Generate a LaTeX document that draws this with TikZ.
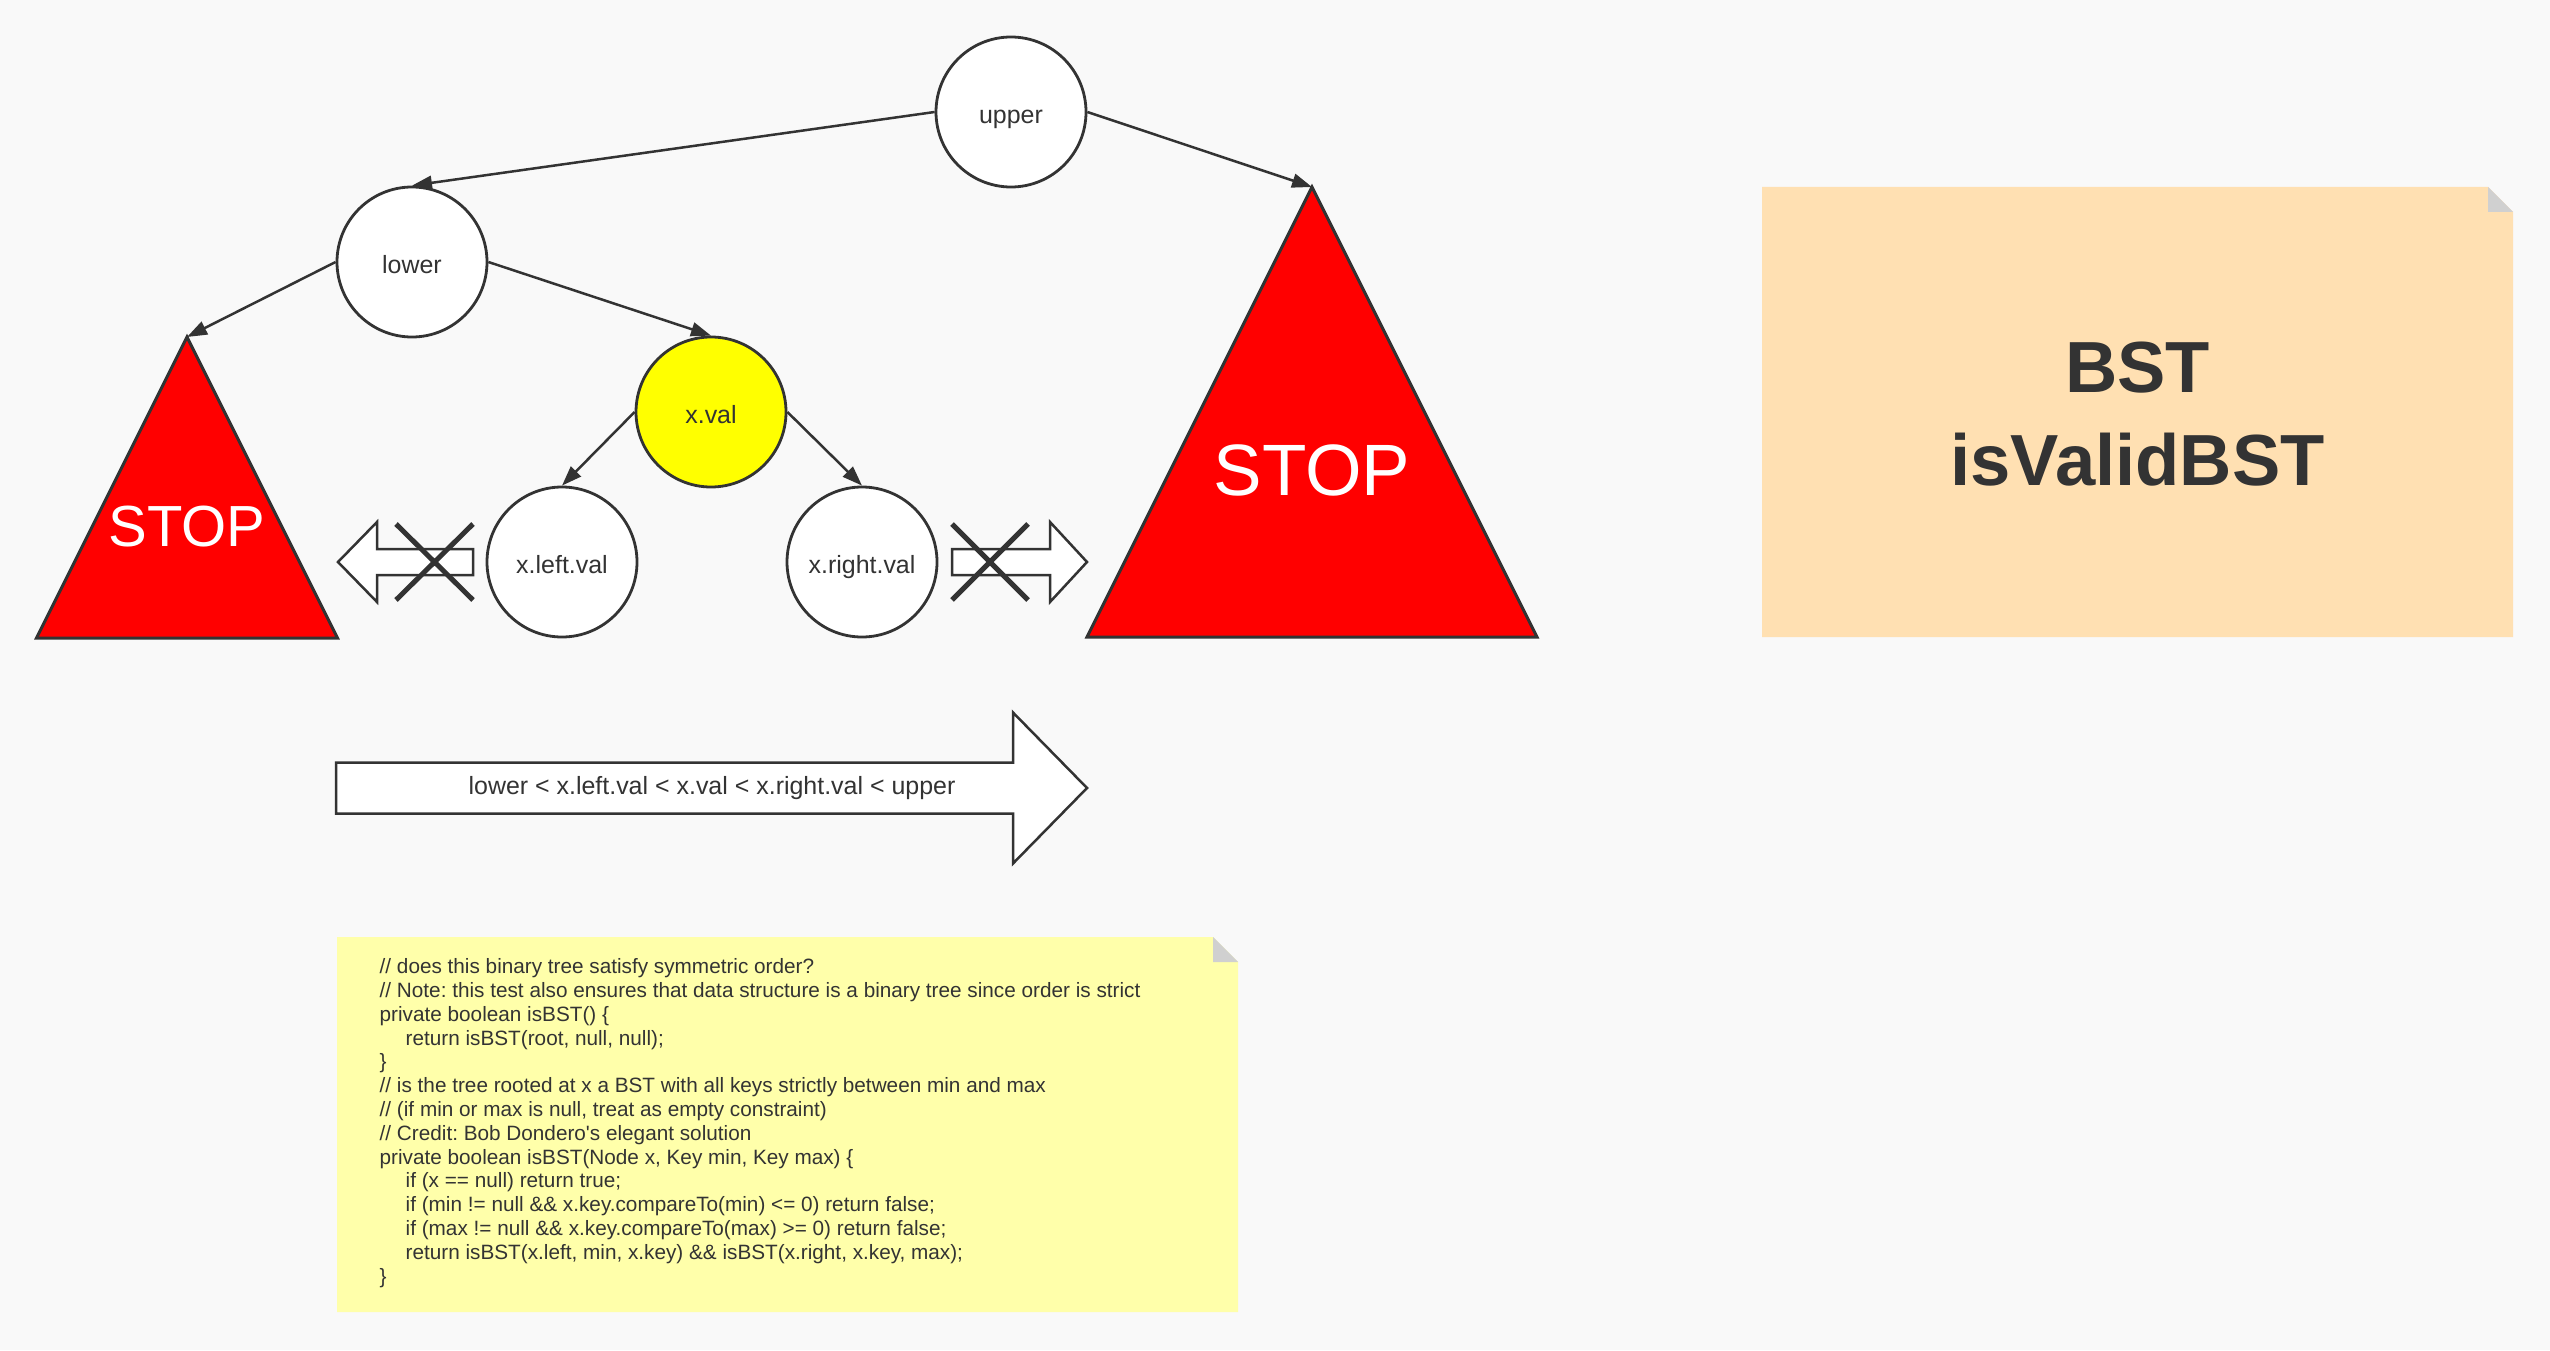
\documentclass[tikz,border=0pt]{standalone}
\usepackage{fontspec}
\setmainfont{Liberation Sans}
\usetikzlibrary{arrows.meta,calc}
\usepackage{xcolor}
\newcommand{\NodeSize}{15mm}
\newcommand{\CodeIndent}{\hspace*{2.6mm}}
\definecolor{inkGrey}{HTML}{333333}
\definecolor{pageBg}{HTML}{F9F9F9}
\definecolor{stopRed}{HTML}{FF0000}
\definecolor{currentYellow}{HTML}{FFFF00}
\definecolor{codeYellow}{HTML}{FFFFAA}
\definecolor{titlePeach}{HTML}{FFE0B2}
\definecolor{foldGrey}{HTML}{D0D0D0}
\newcommand{\PlaceStop}[5]{%
  % #1 name, #2 apex x, #3 apex y, #4 height (= base), #5 font size
  \coordinate (#1) at (#2,#3);
  \draw[stopshape] (#1) -- ++(-#4/2,#4) -- ++(#4,0) -- cycle;
  \node[stoplabel,font=\fontsize{#5}{#5}\selectfont] (#1label)
    at ($(#1)+(0,0.63*#4)$) {STOP};
}
\newcommand{\FatArrow}[6]{%
  % #1 shaft start x, #2 head base x, #3 tip x, #4 centre y, #5 shaft half, #6 head half
  \draw[blockarrow] (#1,#4-#5) -- (#2,#4-#5) -- (#2,#4-#6) -- (#3,#4)
    -- (#2,#4+#6) -- (#2,#4+#5) -- (#1,#4+#5) -- cycle;
}
\newcommand{\StrikeOut}[4]{%
  % #1 left, #2 top, #3 right, #4 bottom
  \draw[strike] (#1,#2) -- (#3,#4) (#3,#2) -- (#1,#4);
}
\newcommand{\PlaceNote}[6]{%
  % #1 name, #2 left, #3 top, #4 right, #5 bottom, #6 fill color
  \fill[#6] (#2,#3) -- (#4-25,#3) -- (#4,#3+25) -- (#4,#5) -- (#2,#5) -- cycle;
  \fill[foldGrey] (#4-25,#3) -- (#4-25,#3+25) -- (#4,#3+25) -- cycle;
  \coordinate (#1) at ($(#2,#3)!0.5!(#4,#5)$);
}

\begin{document}
\frenchspacing
\begin{tikzpicture}[
  x=0.1mm, y=-0.1mm,
  >={Triangle[length=2mm,width=1.4mm]},
  treenode/.style={circle,draw=inkGrey,line width=0.28mm,minimum size=\NodeSize,
    inner sep=0pt,fill=white,text=inkGrey,text height=0.85em,text depth=0.2em,
    font=\fontsize{7.1pt}{8.5pt}\selectfont},
  edge/.style={->,draw=inkGrey,fill=inkGrey,line width=0.25mm},
  stopshape/.style={draw=inkGrey,fill=stopRed,line width=0.3mm,line join=miter},
  stoplabel/.style={text=white,inner sep=0pt},
  blockarrow/.style={draw=inkGrey,fill=white,line width=0.25mm},
  strike/.style={draw=inkGrey,line width=0.5mm},
  label/.style={text=inkGrey,font=\fontsize{7.1pt}{8.5pt}\selectfont},
  codetext/.style={text=inkGrey,align=left,inner sep=0pt,anchor=west,
    font=\fontsize{5.9pt}{6.77pt}\selectfont},
  titletext/.style={text=inkGrey,align=center,inner sep=0pt,
    font=\fontsize{20.6pt}{26.5pt}\selectfont\bfseries}
]

% Page
\fill[pageBg] (0,0) rectangle (2550,1350);
\useasboundingbox (0,0) rectangle (2550,1350);

% Subtrees that are cut off
\PlaceStop{leftstop}{187}{337}{301}{16.5pt}
\PlaceStop{rightstop}{1312}{187}{450}{20.7pt}

% Tree nodes
\node[treenode] (upper) at (1011,112) {upper};
\node[treenode] (lower) at (412,262) {lower};
\node[treenode,fill=currentYellow] (xval) at (711,412) {x.val};
\node[treenode] (xleft) at (562,562) {x.left.val};
\node[treenode] (xright) at (862,562) {x.right.val};

% Edges
\draw[edge] (upper.west) -- (lower.north);
\draw[edge] (upper.east) -- (rightstop);
\draw[edge] (lower.west) -- (leftstop);
\draw[edge] (lower.east) -- (xval.north);
\draw[edge] (xval.west) -- (xleft.north);
\draw[edge] (xval.east) -- (xright.north);

% Blocked directions
\FatArrow{473}{377}{338}{562}{13}{40}
\StrikeOut{396}{524}{473}{600}
\FatArrow{952}{1050}{1087}{562}{13}{40}
\StrikeOut{952}{524}{1028}{600}

% Ordering arrow
\FatArrow{336}{1013}{1087}{788}{25.5}{75.5}
\node[label] (order) at (712,788)
  {lower < x.left.val < x.val < x.right.val < upper};

% Code note
\PlaceNote{codenote}{337}{937}{1238}{1312}{codeYellow}
\node[codetext] (code) at (379,1123) {%
  // does this binary tree satisfy symmetric order?\\
  // Note: this test also ensures that data structure is a binary tree since order is strict\\
  private boolean isBST() \{\\
  \CodeIndent return isBST(root, null, null);\\
  \}\\
  // is the tree rooted at x a BST with all keys strictly between min and max\\
  // (if min or max is null, treat as empty constraint)\\
  // Credit: Bob Dondero\textquotesingle s elegant solution\\
  private boolean isBST(Node x, Key min, Key max) \{\\
  \CodeIndent if (x == null) return true;\\
  \CodeIndent if (min != null \&\& x.key.compareTo(min) <= 0) return false;\\
  \CodeIndent if (max != null \&\& x.key.compareTo(max) >= 0) return false;\\
  \CodeIndent return isBST(x.left, min, x.key) \&\& isBST(x.right, x.key, max);\\
  \}};

% Title note
\PlaceNote{titlenote}{1762}{187}{2513}{637}{titlePeach}
\node[titletext] (title) at ($(titlenote)+(0,2)$) {BST\\isValidBST};

\end{tikzpicture}
\end{document}
